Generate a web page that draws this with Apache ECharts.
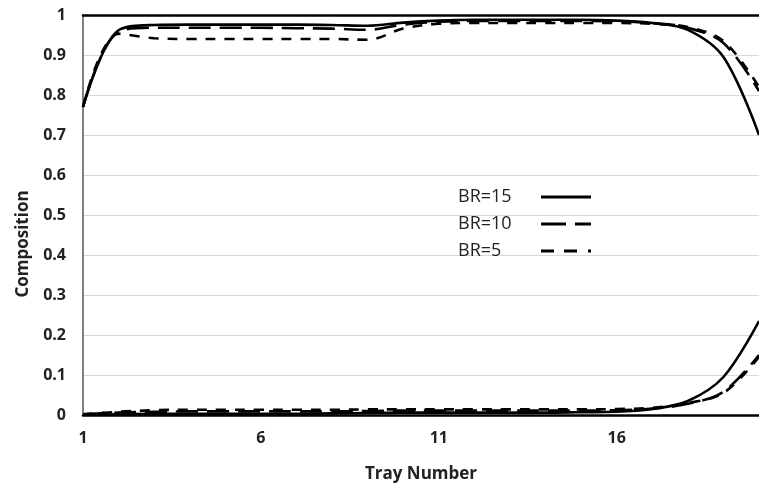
<!DOCTYPE html>
<html><head><meta charset="utf-8">
<script src="https://cdn.jsdelivr.net/npm/echarts@6/dist/echarts.min.js"></script>
<style>html,body{margin:0;padding:0;background:#fff}#c{width:759px;height:488px}</style>
</head><body><div id="c"></div>
<script>
const trays = ['1','2','3','4','5','6','7','8','9','10','11','12','13','14','15','16','17','18','19','20'];
const yTicks = [0,0.1,0.2,0.3,0.4,0.5,0.6,0.7,0.8,0.9,1];
const br15Top = [0.77,0.962,0.975,0.976,0.976,0.976,0.976,0.975,0.973,0.981,0.986,0.988,0.988,0.988,0.988,0.986,0.98,0.963,0.895,0.70];
const br10Top = [0.77,0.958,0.968,0.968,0.968,0.968,0.967,0.966,0.963,0.976,0.983,0.985,0.985,0.985,0.985,0.984,0.98,0.968,0.93,0.81];
const br5Top  = [0.77,0.953,0.942,0.94,0.94,0.94,0.94,0.94,0.938,0.966,0.978,0.98,0.98,0.98,0.98,0.98,0.978,0.97,0.935,0.82];
const br15Bot = [0.0,0.002,0.003,0.003,0.003,0.003,0.003,0.004,0.005,0.006,0.006,0.006,0.006,0.006,0.007,0.008,0.015,0.035,0.095,0.235];
const br10Bot = [0.002,0.006,0.008,0.009,0.009,0.009,0.009,0.009,0.01,0.011,0.011,0.011,0.011,0.011,0.011,0.012,0.016,0.028,0.058,0.15];
const br5Bot  = [0.002,0.008,0.012,0.013,0.013,0.013,0.013,0.013,0.014,0.014,0.014,0.014,0.014,0.014,0.014,0.015,0.018,0.03,0.055,0.145];
const names = ['BR=15','BR=10','BR=5'];

const styles = {
  'BR=15': {type:'solid', width:2.6},
  'BR=10': {type:[22,9], width:2.6},
  'BR=5':  {type:[10,9], width:2.6}
};
const icons = {
  'BR=15': 'path://M0,0 L50,0 L50,3 L0,3 Z',
  'BR=10': 'path://M0,0 L25,0 L25,3 L0,3 Z M34,0 L50,0 L50,3 L34,3 Z',
  'BR=5':  'path://M0,0 L13,0 L13,3 L0,3 Z M23,0 L36,0 L36,3 L23,3 Z M47,0 L50,0 L50,3 L47,3 Z'
};
function mk(name, data){
  return {name:name, type:'line', data:data, smooth:0.35, symbol:'none',
    xAxisIndex:0, yAxisIndex:0,
    lineStyle:Object.assign({color:'#000'}, styles[name]), itemStyle:{color:'#000'}, z:3};
}
const chart = echarts.init(document.getElementById('c'));
const font = '"Open Sans", "Liberation Sans", sans-serif';
chart.setOption({
  animation:false,
  backgroundColor:'#fff',
  grid:{left:83, width:684, top:15, height:401},
  legend:{
    data:names.map(n => ({name:n, icon:icons[n]})),
    orient:'vertical', left:453, top:183, align:'right',
    itemWidth:50, itemHeight:3, itemGap:9,
    formatter:'{t|{name}}',
    textStyle:{fontFamily:font, fontSize:18, color:'#222',
      rich:{t:{fontFamily:font, fontSize:18, color:'#222', width:78, align:'left', lineHeight:22}}}
  },
  xAxis:[{
    type:'category', data:trays, boundaryGap:false, position:'bottom',
    axisLine:{lineStyle:{color:'#000', width:2.5}},
    axisTick:{show:false},
    axisLabel:{interval:4, margin:15, fontFamily:font, fontWeight:'bold', fontSize:16, color:'#222'},
    splitLine:{show:false},
    name:'Tray Number', nameLocation:'middle', nameGap:51,
    nameTextStyle:{fontFamily:font, fontWeight:'bold', fontSize:17, color:'#222'}
  },{
    type:'category', data:trays, boundaryGap:false, position:'top',
    axisLine:{lineStyle:{color:'#000', width:2.5}},
    axisTick:{show:false}, axisLabel:{show:false}, splitLine:{show:false}
  }],
  yAxis:{
    type:'value', min:yTicks[0], max:yTicks[yTicks.length-1], interval:0.1,
    axisLine:{show:true, lineStyle:{color:'#7f7f7f', width:2}},
    axisTick:{show:false},
    axisLabel:{margin:17, fontFamily:font, fontWeight:'bold', fontSize:16, color:'#222'},
    splitLine:{lineStyle:{color:'#d9d9d9', width:1}}
  },
  graphic:[{
    type:'text', x:23, y:244, rotation:Math.PI/2,
    style:{text:'Composition', fontFamily:font, fontWeight:'bold', fontSize:17, fill:'#222', textAlign:'center', textVerticalAlign:'middle'}
  }],
  series:[
    mk('BR=15', br15Top), mk('BR=10', br10Top), mk('BR=5', br5Top),
    mk('BR=15', br15Bot), mk('BR=10', br10Bot), mk('BR=5', br5Bot)
  ]
});
</script></body></html>
